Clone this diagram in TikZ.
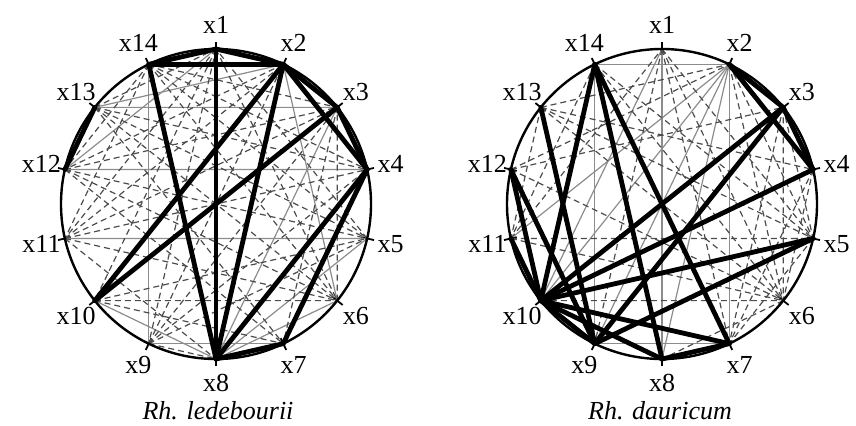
\documentclass[tikz,border=0pt]{standalone}
\usepackage{fontspec}
\setmainfont{Liberation Serif}
\usetikzlibrary{calc}

\begin{document}
\begin{tikzpicture}[x=0.5pt,y=0.5pt,
    rim/.style={line width=1.2pt,black},
    notch/.style={line width=0.9pt,black},
    strong/.style={line width=2.4pt,black,line cap=round},
    weakpos/.style={line width=0.6pt,black!45},
    weakneg/.style={line width=0.6pt,black!70,dash pattern=on 3pt off 2pt},
    varlab/.style={font=\fontsize{13}{15}\selectfont,inner sep=0pt},
    species/.style={font=\fontsize{13}{15}\selectfont\itshape,inner sep=0pt}]
  \useasboundingbox (0,0) rectangle (856,425);
  \coordinate (lc) at (216,221);
  \coordinate (rc) at (662,221);
  \foreach \c/\p in {lc/L,rc/R}{
    \foreach \i in {1,...,14}{
      \pgfmathsetmacro{\ang}{90-(\i-1)*360/14}
      \coordinate (\p\i) at ($(\c)+(\ang:155)$);
      \draw[notch] ($(\c)+(\ang:149)$) -- ($(\c)+(\ang:162)$);
      \node[varlab] (\p lab\i) at ($(\c)+(\ang:179)$) {x\i};
    }
  }
  % left: weak links
  \foreach \a/\b in {12/4,11/5,13/3,3/8,5/8,6/8,9/7,10/8,14/9,1/12,2/6,13/2}
    \draw[weakpos] (L\a) -- (L\b);
  \foreach \a/\b in {13/4,13/5,13/6,12/3,12/5,12/6,11/3,11/4,11/6,11/2,10/6,10/5,
      9/4,9/3,9/5,14/6,14/5,1/10,1/9,1/6,3/7,10/7,14/11,1/11,2/12,14/4,14/3,
      13/1,9/2,13/7,12/7,5/1,6/3,11/8,9/8,14/12}
    \draw[weakneg] (L\a) -- (L\b);
  % right: weak links
  \foreach \a/\b in {14/2,1/8,14/9,2/7,2/9,2/10,2/8,2/11,1/10,9/7}
    \draw[weakpos] (R\a) -- (R\b);
  \foreach \a/\b in {1/9,1/7,1/6,13/4,13/5,13/6,12/6,11/5,11/6,10/6,14/5,14/6,12/3,
      13/2,12/2,2/5,2/6,3/6,3/7,4/6,4/7,1/5,14/11,13/11,11/1,6/8,5/7,3/5}
    \draw[weakneg] (R\a) -- (R\b);
  % left: strong links
  \foreach \a/\b in {14/1,1/2,14/2,1/8,14/8,2/8,2/10,3/10,2/3,3/4,2/4,4/8,4/7,7/8,12/13}
    \draw[strong] (L\a) -- (L\b);
  % right: strong links
  \foreach \a/\b in {2/3,3/4,2/4,3/10,3/9,4/10,5/10,5/9,7/10,7/8,8/10,10/11,12/10,
      12/9,13/9,14/10,14/8,14/7,9/10}
    \draw[strong] (R\a) -- (R\b);
  \draw[rim] (lc) circle (155);
  \draw[rim] (rc) circle (155);
  \node[species] (lname) at (218,14) {Rh. ledebourii};
  \node[species] (rname) at (660,14) {Rh. dauricum};
\end{tikzpicture}
\end{document}
